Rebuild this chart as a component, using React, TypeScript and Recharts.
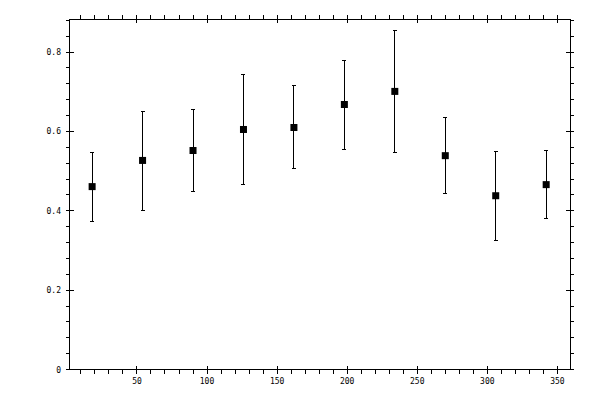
import React from 'react';
import { ComposedChart, Scatter, XAxis, YAxis, ErrorBar } from 'recharts';

const xValues = [18, 54, 90, 126, 162, 198, 234, 270, 306, 342];
const yValues = [0.461, 0.527, 0.552, 0.605, 0.61, 0.668, 0.701, 0.539, 0.438, 0.466];
const upperValues = [0.547, 0.65, 0.655, 0.744, 0.716, 0.779, 0.855, 0.636, 0.549, 0.552];
const lowerValues = [0.373, 0.401, 0.449, 0.466, 0.506, 0.554, 0.547, 0.443, 0.325, 0.38];

const xMajorTicks = [50, 100, 150, 200, 250, 300, 350];
const xAllTicks = [10, 20, 30, 40, 50, 60, 70, 80, 90, 100, 110, 120, 130, 140, 150, 160, 170, 180, 190, 200, 210, 220, 230, 240, 250, 260, 270, 280, 290, 300, 310, 320, 330, 340, 350];
const yMajorTicks = [0, 0.2, 0.4, 0.6, 0.8];
const yMajorLabels = ['0', '0.2', '0.4', '0.6', '0.8'];
const yAllTicks = [0, 0.04, 0.08, 0.12, 0.16, 0.2, 0.24, 0.28, 0.32, 0.36, 0.4, 0.44, 0.48, 0.52, 0.56, 0.6, 0.64, 0.68, 0.72, 0.76, 0.8, 0.84, 0.88];

const xDomain = [1.5, 359];
const yDomain = [0, 0.8835];

const data = xValues.map((x, i) => ({
  x,
  y: yValues[i],
  err: [yValues[i] - lowerValues[i], upperValues[i] - yValues[i]],
}));

const FONT = '"DejaVu Sans Mono", monospace';
const isXMajor = (v: number) => xMajorTicks.some((m) => Math.abs(m - v) < 1e-6);
const yMajorIndex = (v: number) => yMajorTicks.findIndex((m) => Math.abs(m - v) < 1e-6);

const lineStyle = { stroke: '#000', strokeWidth: 1, shapeRendering: 'crispEdges' as const };

const BottomTick = (props: any) => {
  const { x, y, payload } = props;
  const major = isXMajor(payload.value);
  return (
    <g>
      <line x1={x} x2={x} y1={major ? y - 4 : y} y2={y + 4} {...lineStyle} />
      {major && (
        <text x={x} y={y + 14} textAnchor="middle" fontFamily={FONT} fontSize={8} fill="#000">
          {payload.value}
        </text>
      )}
    </g>
  );
};

const TopTick = (props: any) => {
  const { x, y, payload } = props;
  const major = isXMajor(payload.value);
  return <line x1={x} x2={x} y1={y - 4} y2={major ? y + 4 : y} {...lineStyle} />;
};

const LeftTick = (props: any) => {
  const { x, y, payload } = props;
  const idx = yMajorIndex(payload.value);
  const major = idx >= 0;
  return (
    <g>
      <line x1={x - 3} x2={major ? x + 5 : x} y1={y} y2={y} {...lineStyle} />
      {major && (
        <text x={x - 8} y={y + 3} textAnchor="end" fontFamily={FONT} fontSize={8} fill="#000">
          {yMajorLabels[idx]}
        </text>
      )}
    </g>
  );
};

const RightTick = (props: any) => {
  const { x, y, payload } = props;
  const major = yMajorIndex(payload.value) >= 0;
  return <line x1={major ? x - 4 : x} x2={x + 4} y1={y} y2={y} {...lineStyle} />;
};

const SquareShape = (props: any) => {
  const { cx, cy } = props;
  return <rect x={cx - 3.5} y={cy - 3.5} width={7} height={7} fill="#000" />;
};

export default function App() {
  return (
    <div style={{ position: 'absolute', left: 0, top: 0, width: 600, height: 400, background: '#fff' }}>
      <ComposedChart width={600} height={400} data={data} margin={{ top: 18, right: 29, bottom: 29.5, left: 68 }}>
        <XAxis
          xAxisId="b"
          dataKey="x"
          type="number"
          orientation="bottom"
          domain={xDomain}
          allowDataOverflow
          ticks={xAllTicks}
          interval={0}
          height={1}
          tickSize={0}
          tickMargin={0}
          tickLine={false}
          axisLine={lineStyle}
          tick={<BottomTick />}
        />
        <XAxis
          xAxisId="t"
          dataKey="x"
          type="number"
          orientation="top"
          domain={xDomain}
          allowDataOverflow
          ticks={xAllTicks}
          interval={0}
          height={1}
          tickSize={0}
          tickMargin={0}
          tickLine={false}
          axisLine={lineStyle}
          tick={<TopTick />}
        />
        <YAxis
          yAxisId="l"
          type="number"
          orientation="left"
          domain={yDomain}
          allowDataOverflow
          ticks={yAllTicks}
          interval={0}
          width={1}
          tickSize={0}
          tickMargin={0}
          tickLine={false}
          axisLine={lineStyle}
          tick={<LeftTick />}
        />
        <YAxis
          yAxisId="r"
          type="number"
          orientation="right"
          domain={yDomain}
          allowDataOverflow
          ticks={yAllTicks}
          interval={0}
          width={1}
          tickSize={0}
          tickMargin={0}
          tickLine={false}
          axisLine={lineStyle}
          tick={<RightTick />}
        />
        <Scatter
          xAxisId="b"
          yAxisId="l"
          dataKey="y"
          fill="#000"
          shape={<SquareShape />}
          isAnimationActive={false}
        >
          <ErrorBar
            dataKey="err"
            direction="y"
            width={2}
            stroke="#000"
            strokeWidth={1}
            shapeRendering="crispEdges"
            isAnimationActive={false}
          />
        </Scatter>
      </ComposedChart>
    </div>
  );
}
